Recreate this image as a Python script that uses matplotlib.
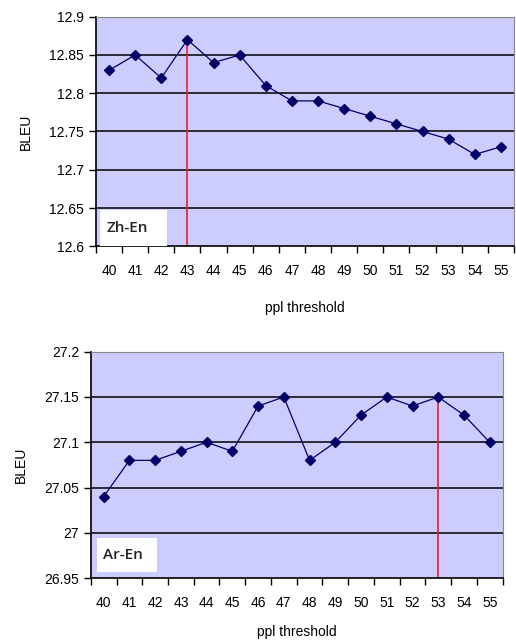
import numpy as np
import matplotlib.pyplot as plt
from matplotlib.patches import Rectangle

plt.rcParams['font.family'] = ['Liberation Sans', 'DejaVu Sans']

thresholds = [40, 41, 42, 43, 44, 45, 46, 47, 48, 49, 50, 51, 52, 53, 54, 55]
zh_en = [12.83, 12.85, 12.82, 12.87, 12.84, 12.85, 12.81, 12.79,
         12.79, 12.78, 12.77, 12.76, 12.75, 12.74, 12.72, 12.73]
ar_en = [27.04, 27.08, 27.08, 27.09, 27.10, 27.09, 27.14, 27.15,
         27.08, 27.10, 27.13, 27.15, 27.14, 27.15, 27.13, 27.10]
zh_ticks = [12.6, 12.65, 12.7, 12.75, 12.8, 12.85, 12.9]
ar_ticks = [26.95, 27, 27.05, 27.1, 27.15, 27.2]
zh_best = 43
ar_best = 53

fig = plt.figure(figsize=(5.16, 6.43), dpi=100)
ax1 = fig.add_axes([0.186, 0.617, 0.810, 0.357])
ax2 = fig.add_axes([0.176, 0.101, 0.798, 0.352])


def draw(ax, vals, yt, best, tag, box, xpad):
    x = np.arange(len(thresholds))
    ax.set_facecolor('#ccccff')
    ax.set_xlim(-0.5, len(thresholds) - 0.5)
    ax.set_ylim(yt[0], yt[-1])
    ax.set_yticks(yt)
    ax.set_yticklabels([f'{v:g}' for v in yt], fontsize=10)
    for v in yt[1:-1]:
        ax.axhline(v, color='black', lw=1.1, zorder=1)
    ax.set_xticks(x)
    ax.set_xticklabels([str(t) for t in thresholds], fontsize=10)
    ax.set_xticks(np.arange(-0.5, len(thresholds)), minor=True)
    ax.tick_params(axis='x', which='major', length=0, pad=13)
    ax.tick_params(axis='x', which='minor', length=5, width=1)
    ax.tick_params(axis='y', length=5, width=1, direction='out')
    bi = thresholds.index(best)
    ax.plot([bi, bi], [yt[0], vals[bi]], color='#e8202a', lw=1.2, zorder=2)
    ax.plot(x, vals, color='#000066', lw=0.9, marker='D', markersize=5,
            markerfacecolor='#000066', markeredgecolor='#000066', zorder=3)
    for s in ['top', 'right']:
        ax.spines[s].set_color('#888888')
    for s in ['left', 'bottom']:
        ax.spines[s].set_color('black')
        ax.spines[s].set_linewidth(1.2)
    bx, by, bw, bh = box
    ax.add_patch(Rectangle((bx, by), bw, bh, transform=ax.transAxes,
                           facecolor='white', edgecolor='none', zorder=4))
    ax.text(bx + 0.015, by + bh / 2, tag, transform=ax.transAxes, fontsize=11,
            fontweight='semibold', family='Open Sans', va='center', ha='left',
            color='#222222', zorder=5)
    ax.set_xlabel('ppl threshold', fontsize=10, labelpad=xpad)
    ax.set_ylabel('BLEU', fontsize=10, labelpad=12)


draw(ax1, zh_en, zh_ticks, zh_best, 'Zh-En', (0.01, 0.0, 0.16, 0.157), 16)
draw(ax2, ar_en, ar_ticks, ar_best, 'Ar-En', (0.015, 0.025, 0.145, 0.152), 11)

fig.savefig('out.png', dpi=100)
